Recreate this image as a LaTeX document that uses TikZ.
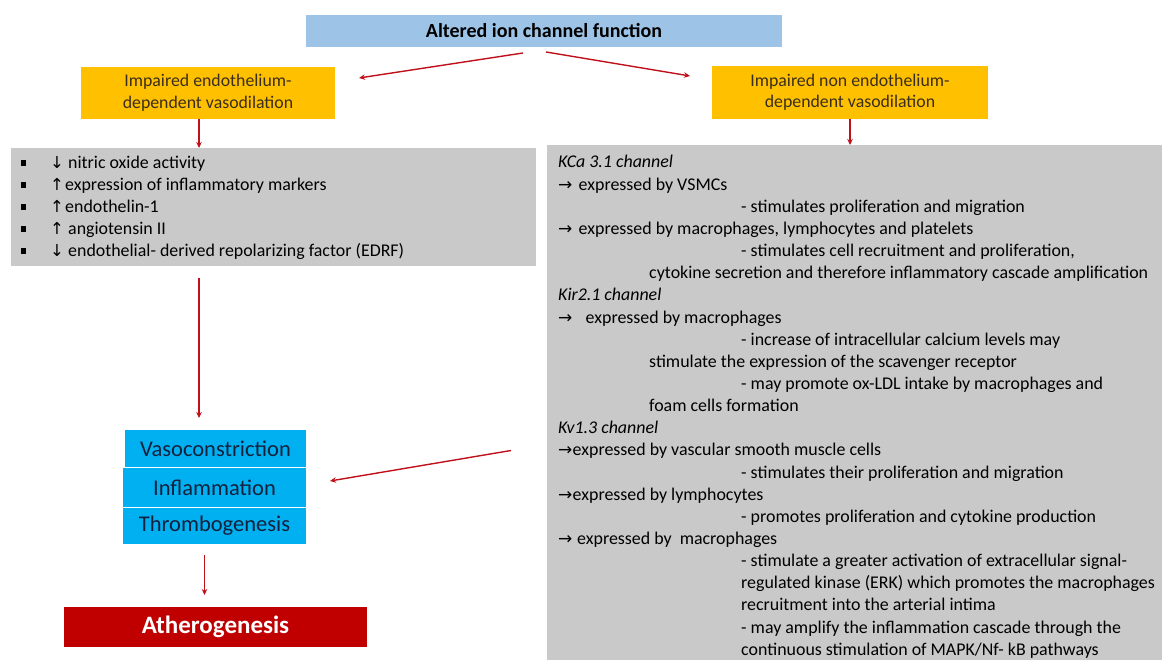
\documentclass[tikz,border=0pt]{standalone}
\usepackage{fontspec}
\setmainfont{Carlito}
\newfontfamily\symf{DejaVu Sans}
\usetikzlibrary{arrows.meta,calc}
\definecolor{topblue}{HTML}{9DC3E6}
\definecolor{orng}{HTML}{FFC000}
\definecolor{grayfill}{RGB}{201,201,201}
\definecolor{cyanb}{HTML}{00B0F0}
\definecolor{darkred}{HTML}{C00000}
\definecolor{arrred}{HTML}{C0101A}
\definecolor{otext}{HTML}{3A2E1E}
\definecolor{btext}{HTML}{14213D}
\newcommand\bul{\rule[2.5pt]{5pt}{5.5pt}}
\newcommand\rarr[1]{\makebox[#1pt][l]{\symf\fontsize{17}{17}\selectfont →}}
\newcommand\vup[1]{\makebox[#1pt][l]{\symf\fontsize{16.5}{16.5}\selectfont ↑}}
\newcommand\vdn[1]{\makebox[#1pt][l]{\symf\fontsize{16.5}{16.5}\selectfont ↓}}
\newcommand\ind[1]{\hspace*{#1pt}}
\tikzset{
  box/.style={rectangle, inner sep=0pt, outer sep=0pt, anchor=north west},
  arr/.style={draw=arrred, line width=1.4pt, -{Stealth[length=6pt,width=5.5pt]}},
  body/.style={font=\fontsize{17.9}{22.15}\selectfont, inner sep=0pt, anchor=base west, text=black},
  stack/.style={box, fill=cyanb, text=btext, font=\fontsize{22.5}{26}\selectfont},
}
\begin{document}
\begin{tikzpicture}[x=1pt,y=-1pt]
\useasboundingbox (0,0) rectangle (1162,660);
% boxes
\node[box, fill=topblue, minimum width=476pt, minimum height=32pt,
      font=\bfseries\fontsize{20}{22}\selectfont] (top) at (306,15) {Altered ion channel function};
\node[box, fill=orng, minimum width=254pt, minimum height=52pt, align=center, text=otext,
      font=\fontsize{17.8}{21.5}\selectfont] (lo) at (81,67) {Impaired endothelium-\\dependent vasodilation};
\node[box, fill=orng, minimum width=276pt, minimum height=53pt, align=center, text=otext,
      font=\fontsize{17.8}{21.5}\selectfont] (ro) at (712,66) {Impaired non endothelium-\\dependent vasodilation};
\node[box, fill=grayfill, minimum width=525pt, minimum height=118pt] (lg) at (11,148) {};
\node[box, fill=grayfill, minimum width=616pt, minimum height=520pt] (rg) at (547,145) {};
\node[stack, minimum width=181pt, minimum height=37pt] (vaso) at (125,430) {Vasoconstriction};
\node[stack, minimum width=183pt, minimum height=39pt] (infl) at (123,468) {Inflammation};
\node[stack, minimum width=183pt, minimum height=36pt] (thr) at (123,508) {Thrombogenesis};
\node[box, fill=darkred, text=white, minimum width=303pt, minimum height=40pt,
      font=\bfseries\fontsize{25}{28}\selectfont] (ath) at (64,607) {Atherogenesis};
% left list
\node[body] (lt) at (21,168.5) {\parbox[t]{510pt}{\fontsize{17.9}{22}\selectfont
\bul\ind{24}\vdn{18}nitric oxide activity\\
\bul\ind{24}\vup{15}expression of inflammatory markers\\
\bul\ind{24}\vup{15}endothelin-1\\
\bul\ind{24}\vup{18}angiotensin II\\
\bul\ind{24}\vdn{18}endothelial- derived repolarizing factor (EDRF)}};
% right text
\node[body] (rt) at (558,168) {\parbox[t]{600pt}{%
\textit{KCa 3.1 channel}\\
\rarr{20.5}expressed by VSMCs\\
\ind{183}- stimulates proliferation and migration\\
\rarr{20.5}expressed by macrophages, lymphocytes and platelets\\
\ind{183}- stimulates cell recruitment and proliferation,\\
\ind{91}cytokine secretion and therefore inflammatory cascade amplification\\
\textit{Kir2.1 channel}\\
\rarr{27.5}expressed by macrophages\\
\ind{183}- increase of intracellular calcium levels may\\
\ind{91}stimulate the expression of the scavenger receptor\\
\ind{183}- may promote ox-LDL intake by macrophages and\\
\ind{91}foam cells formation\\
\textit{Kv1.3 channel}\\
\rarr{14.5}expressed by vascular smooth muscle cells\\
\ind{183}- stimulates their proliferation and migration\\
\rarr{14.5}expressed by lymphocytes\\
\ind{183}- promotes proliferation and cytokine production\\
\rarr{19}expressed by\ \ macrophages\\
\ind{183}- stimulate a greater activation of extracellular signal-\\
\ind{183}regulated kinase (ERK) which promotes the macrophages\\
\ind{183}recruitment into the arterial intima\\
\ind{183}- may amplify the inflammation cascade through the\\
\ind{183}continuous stimulation of MAPK/Nf- kB pathways}};
% connectors
\draw[arr] ([xshift=-21pt,yshift=-6pt]top.south) -- ([xshift=24pt,yshift=15pt]lo.east);
\draw[arr] ([xshift=2pt,yshift=-5pt]top.south) -- ([xshift=-22pt,yshift=16.5pt]ro.west);
\draw[arr] ([xshift=-9pt]lo.south) -- ([xshift=-74.5pt]lg.north);
\draw[arr] (ro.south) -- (ro.south |- rg.north);
\draw[arr] ([xshift=-74.5pt,yshift=-12pt]lg.south) -- ([xshift=-16.5pt,yshift=12pt]vaso.north);
\draw[arr] ([xshift=-36pt,yshift=-45.5pt]rg.west) -- ([xshift=24pt,yshift=6.5pt]infl.east);
\draw[arr] ([xshift=-10pt,yshift=-11pt]thr.south) -- ([xshift=-11pt,yshift=12pt]ath.north);
\end{tikzpicture}
\end{document}
